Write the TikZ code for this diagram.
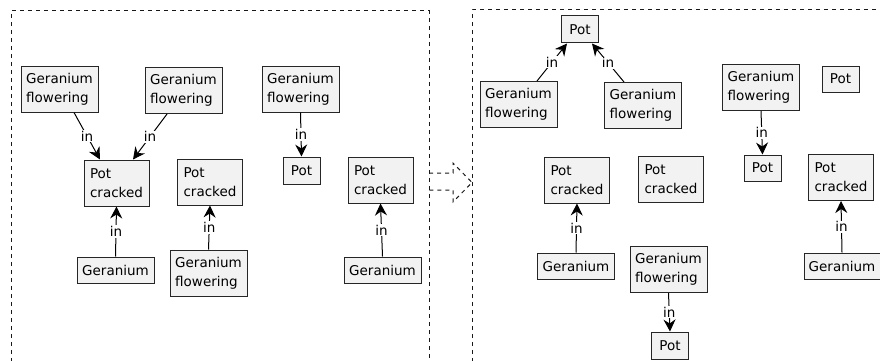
\documentclass[tikz,border=0pt]{standalone}
\usepackage{fontspec}
\setmainfont{DejaVu Sans}
\usetikzlibrary{arrows.meta}
\tikzset{>={Stealth[length=12pt,width=12pt,inset=4pt]}}
\colorlet{boxfill}{black!5}
\colorlet{boxline}{black!85}
\tikzset{
  item/.style = {draw=boxline, fill=boxfill, line width=1pt, inner sep=0pt,
    align=left, minimum height=26pt,
    font=\fontsize{13.5}{19}\selectfont},
  twoline/.style = {minimum height=46pt},
  wide/.style = {minimum width=77pt},
  mid/.style = {minimum width=65pt},
  small/.style = {minimum width=37pt},
  rel/.style = {->, line width=1pt},
  lbl/.style = {fill=white, inner sep=1pt, font=\fontsize{13.5}{15}\selectfont},
  frame/.style = {dash pattern=on 4pt off 4pt, line width=1pt, black!90}
}

\begin{document}
\begin{tikzpicture}[x=1pt,y=-1pt]
  \useasboundingbox (0,0) rectangle (880,361);
  \clip (0,0) rectangle (880,361);
  % frames
  \draw[frame] (11,370) -- (11,11) -- (429,11) -- (429,370);
  \draw[frame] (472,370) -- (472,10) -- (890,10);
  \draw[frame]
    (429,173) -- (453,173) -- (453,163) -- (472,182.5) -- (453,202) -- (453,190) -- (429,190);

  % left
  \node[item,twoline,wide] (gfA) at (59.5,89) {Geranium\\flowering};
  \node[item,twoline,wide] (gfB) at (183.5,90.5) {Geranium\\flowering};
  \node[item,twoline,wide] (gfC) at (300.5,89) {Geranium\\flowering};
  \node[item,twoline,mid] (pcA) at (116.5,183) {Pot\\cracked};
  \node[item,twoline,mid] (pcB) at (210,182) {Pot\\cracked};
  \node[item,small,minimum height=27pt] (potA) at (301.5,170.5) {Pot};
  \node[item,twoline,mid] (pcC) at (380.5,180) {Pot\\cracked};
  \node[item,wide] (gA) at (115.5,270) {Geranium};
  \node[item,twoline,wide] (gfD) at (208.5,273) {Geranium\\flowering};
  \node[item,wide] (gB) at (382.5,270) {Geranium};

  \draw[rel] ([xshift=14.5pt]gfA.south) -- node[lbl] {in} ([xshift=-16.5pt]pcA.north);
  \draw[rel] ([xshift=-16.5pt]gfB.south) -- node[lbl] {in} ([xshift=16.5pt]pcA.north);
  \draw[rel] (gfC.south) -- node[lbl] {in} (potA.north);
  \draw[rel] (gA.north) -- node[lbl] {in} (pcA.south);
  \draw[rel] (gfD.north) -- node[lbl] {in} (pcB.south);
  \draw[rel] (gB.north) -- node[lbl] {in} (pcC.south);

  % right
  \node[item,small,minimum height=27pt] (potR1) at (580,29.5) {Pot};
  \node[item,twoline,wide] (gfR1) at (518.5,104.5) {Geranium\\flowering};
  \node[item,twoline,wide] (gfR2) at (643,105.5) {Geranium\\flowering};
  \node[item,twoline,wide] (gfR3) at (761,87.5) {Geranium\\flowering};
  \node[item,small] (potR2) at (840.5,79) {Pot};
  \node[item,small] (potR3) at (762.5,168) {Pot};
  \node[item,twoline,mid] (pcR1) at (577,180) {Pot\\cracked};
  \node[item,twoline,mid] (pcR2) at (671,179) {Pot\\cracked};
  \node[item,twoline,mid] (pcR3) at (841,177.5) {Pot\\cracked};
  \node[item,wide] (gR1) at (576,266) {Geranium};
  \node[item,twoline,wide] (gfR4) at (668.5,269.5) {Geranium\\flowering};
  \node[item,small,minimum height=27pt] (potR4) at (670,345.5) {Pot};
  \node[item,minimum width=76pt] (gR2) at (842,266) {Geranium};

  \draw[rel] ([xshift=18.5pt]gfR1.north) -- node[lbl] {in} ([xshift=-13pt]potR1.south);
  \draw[rel] ([xshift=-19pt]gfR2.north) -- node[lbl] {in} ([xshift=12pt]potR1.south);
  \draw[rel] (gfR3.south) -- node[lbl] {in} (potR3.north);
  \draw[rel] (gR1.north) -- node[lbl] {in} (pcR1.south);
  \draw[rel] (gfR4.south) -- node[lbl] {in} (potR4.north);
  \draw[rel] (gR2.north) -- node[lbl] {in} (pcR3.south);
\end{tikzpicture}
\end{document}
